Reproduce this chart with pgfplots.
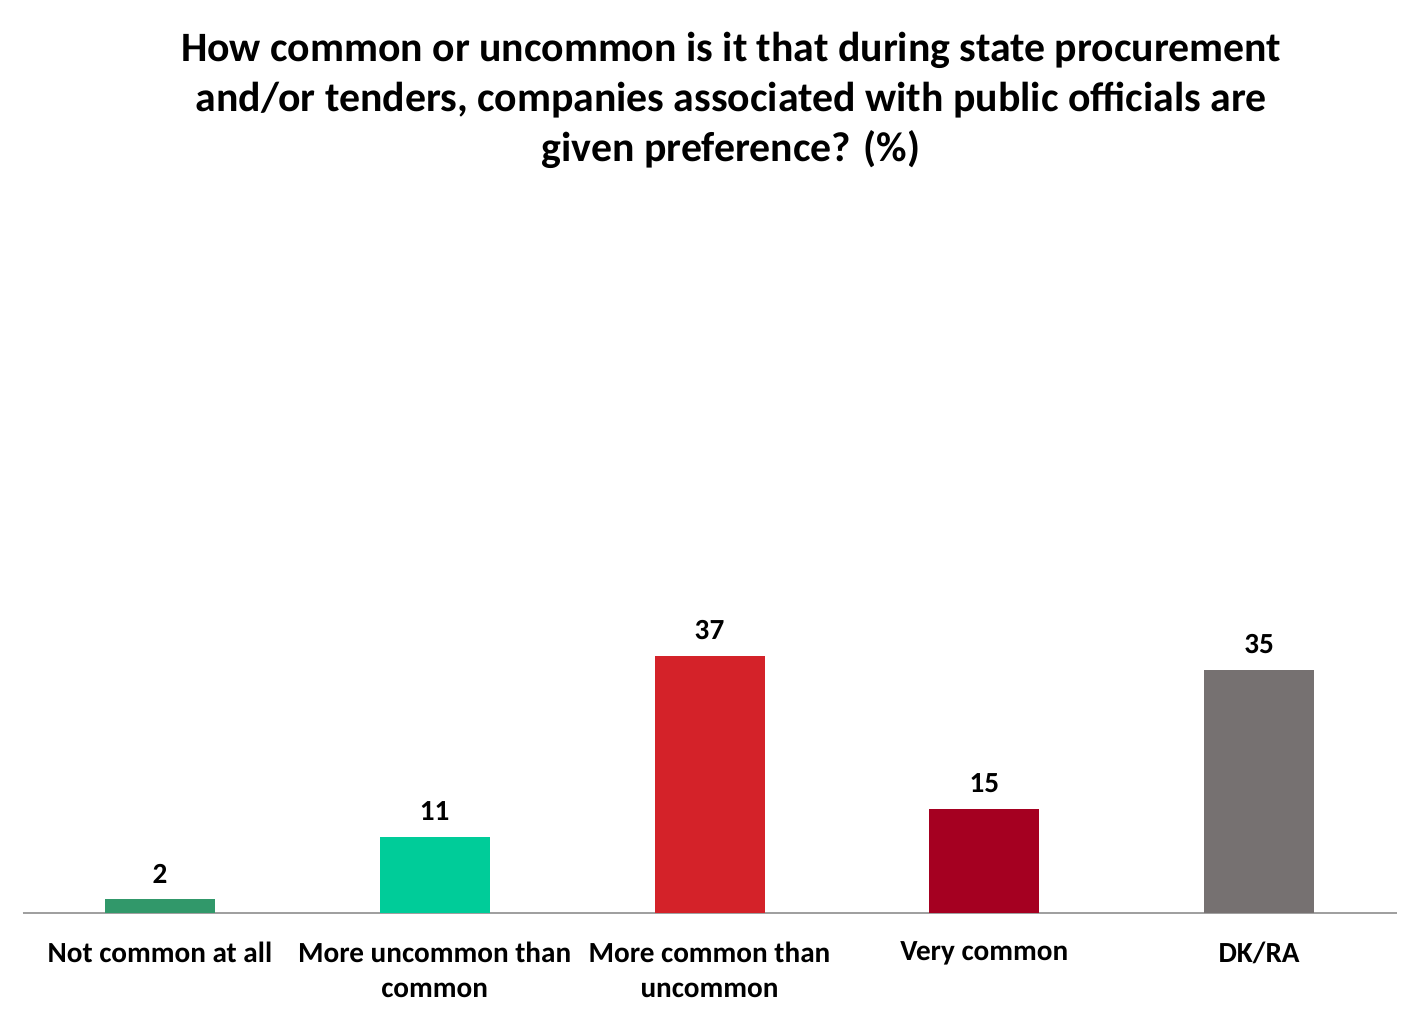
\documentclass[border=0pt]{standalone}
\usepackage{fontspec}
\setmainfont{Carlito}
\usepackage{pgfplots}
\pgfplotsset{compat=1.18}
\definecolor{c1}{RGB}{49,152,106}
\definecolor{c2}{RGB}{0,204,153}
\definecolor{c3}{RGB}{212,34,41}
\definecolor{c4}{RGB}{165,0,33}
\definecolor{c5}{RGB}{118,113,113}
\definecolor{axgray}{RGB}{160,160,160}
\begin{document}
\begin{tikzpicture}
\useasboundingbox (0,0) rectangle (710pt,515.5pt);
\node[align=center, font=\bfseries\fontsize{20.9pt}{25pt}\selectfont] at (365.5pt,465.5pt)
 {How common or uncommon is it that during state procurement\\and/or tenders, companies associated with public officials are\\given preference? (\%)};
\begin{axis}[
  at={(11.25pt,59pt)}, anchor=south west,
  scale only axis, width=687pt, height=347.5pt,
  xmin=-0.5, xmax=4.5, ymin=0, ymax=100,
  axis x line=bottom, axis y line=none,
  axis line style={-, draw=axgray, line width=0.75pt},
  xtick={0,1,2,3,4},
  xticklabels={{Not common at all}, {More uncommon than\\common}, {More common than\\uncommon}, {Very common}, {DK/RA}},
  xticklabel style={font=\bfseries\fontsize{14.6pt}{17.5pt}\selectfont, align=center, anchor=north, yshift=-6.5pt},
  xtick style={draw=none},
  ytick=\empty,
  /pgf/number format/assume math mode=true,
  ybar, bar width=55pt, bar shift=0pt,
  nodes near coords,
  every node near coord/.append style={font=\bfseries\fontsize{14.6pt}{16pt}\selectfont, black, yshift=4.5pt},
  clip=false,
]
\addplot[fill=c1, draw=none] coordinates {(0,2)};
\addplot[fill=c2, draw=none] coordinates {(1,11)};
\addplot[fill=c3, draw=none] coordinates {(2,37)};
\addplot[fill=c4, draw=none] coordinates {(3,15)};
\addplot[fill=c5, draw=none] coordinates {(4,35)};
\end{axis}
\end{tikzpicture}
\end{document}
